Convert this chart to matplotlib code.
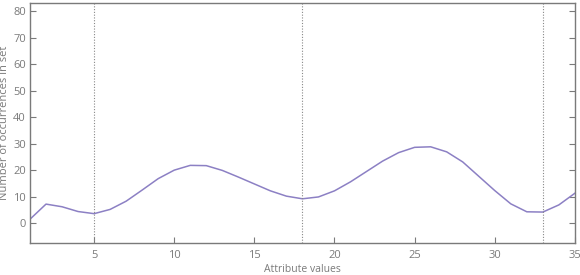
import matplotlib
matplotlib.use("Agg")
import matplotlib.pyplot as plt

# attribute values and counts
attr_values = list(range(1, 36))
occurrences = [1.5, 7.2, 6.2, 4.4, 3.6, 5.2, 8.3, 12.5, 16.8, 20.0,
               21.8, 21.7, 19.9, 17.4, 14.8, 12.2, 10.2, 9.2, 9.9, 12.2,
               15.6, 19.5, 23.4, 26.6, 28.6, 28.8, 26.9, 23.1, 17.7, 12.3,
               7.3, 4.3, 4.2, 6.9, 11.3]
split_points = [5, 18, 33]
y_ticks = [0, 10, 20, 30, 40, 50, 60, 70, 80]
x_ticks = [5, 10, 15, 20, 25, 30, 35]

plt.rcParams["font.family"] = ["Open Sans", "DejaVu Sans"]
grey = "#7a7a7a"

fig = plt.figure(figsize=(5.8, 2.75), dpi=100)
ax = fig.add_axes([0.0517, 0.116, 0.9395, 0.873])

ax.plot(attr_values, occurrences, color="#8c80c4", linewidth=1.1)
for s in split_points:
    ax.axvline(s, color="#888888", linestyle=(0, (1, 1.5)), linewidth=0.8)

ax.set_xlim(1, 35)
ax.set_ylim(-7.5, 83)
ax.set_xticks(x_ticks)
ax.set_yticks(y_ticks)
ax.tick_params(direction="in", length=4, width=0.8, colors=grey,
               labelsize=8, labelcolor=grey, right=True, pad=3)
ax.tick_params(axis="x", pad=5)
for sp in ax.spines.values():
    sp.set_color(grey)
    sp.set_linewidth(1.0)

ax.set_xlabel("Attribute values", fontsize=7.5, color=grey, labelpad=2)
ax.set_ylabel("Number of occurrences in set", fontsize=8, color=grey, labelpad=2)

fig.savefig("out.png", dpi=100)
